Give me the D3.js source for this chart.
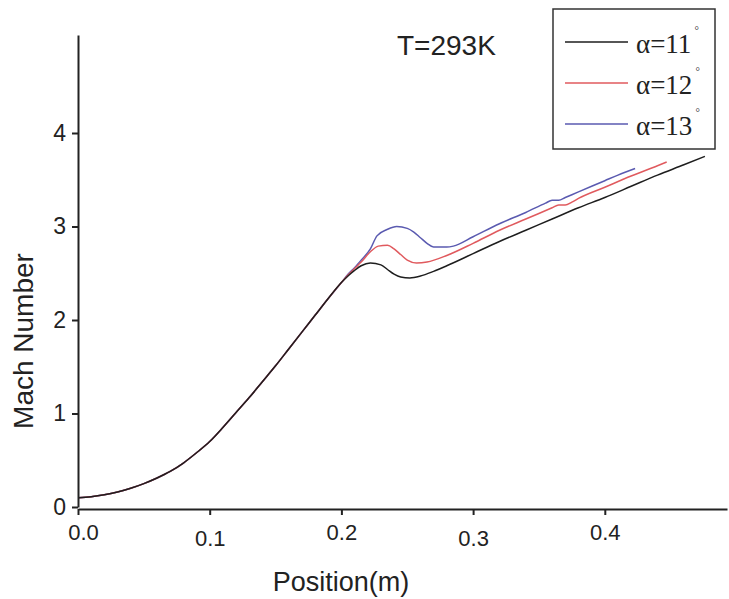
<!DOCTYPE html>
<html>
<head>
<meta charset="utf-8">
<script src="https://cdn.jsdelivr.net/npm/d3@7"></script>
<style>
  body { margin: 0; background: #fff; }
  svg { display: block; }
</style>
</head>
<body>
<div id="chart"></div>
<script>
// shared rising part, all three curves overlap here
const baseX = [0, 0.01, 0.02, 0.03, 0.04, 0.05, 0.06, 0.07, 0.08, 0.09, 0.10, 0.11, 0.12, 0.13, 0.14, 0.15, 0.16, 0.17, 0.18, 0.19, 0.20];
const baseM = [0.10, 0.11, 0.13, 0.16, 0.20, 0.25, 0.31, 0.38, 0.47, 0.58, 0.70, 0.85, 1.01, 1.17, 1.34, 1.51, 1.69, 1.87, 2.05, 2.23, 2.40];

const x11 = [0.205, 0.21, 0.215, 0.222, 0.23, 0.235, 0.24, 0.245, 0.252, 0.26, 0.27, 0.28, 0.30, 0.32, 0.34, 0.36, 0.38, 0.40, 0.42, 0.44, 0.46, 0.476];
const m11 = [2.47, 2.53, 2.58, 2.61, 2.59, 2.54, 2.49, 2.46, 2.45, 2.47, 2.52, 2.58, 2.71, 2.84, 2.96, 3.08, 3.20, 3.31, 3.43, 3.55, 3.66, 3.75];

const x12 = [0.205, 0.21, 0.215, 0.222, 0.228, 0.235, 0.24, 0.245, 0.25, 0.257, 0.265, 0.28, 0.30, 0.32, 0.34, 0.36, 0.365, 0.37, 0.375, 0.38, 0.40, 0.42, 0.44, 0.447];
const m12 = [2.48, 2.55, 2.62, 2.73, 2.79, 2.80, 2.76, 2.70, 2.64, 2.61, 2.62, 2.69, 2.82, 2.96, 3.08, 3.20, 3.23, 3.23, 3.26, 3.30, 3.42, 3.54, 3.65, 3.69];

const x13 = [0.205, 0.21, 0.215, 0.222, 0.227, 0.235, 0.242, 0.25, 0.255, 0.26, 0.265, 0.27, 0.28, 0.285, 0.30, 0.32, 0.34, 0.355, 0.36, 0.365, 0.37, 0.38, 0.40, 0.41, 0.423];
const m13 = [2.49, 2.56, 2.64, 2.76, 2.90, 2.97, 3.00, 2.98, 2.94, 2.88, 2.82, 2.78, 2.78, 2.79, 2.89, 3.03, 3.15, 3.25, 3.28, 3.28, 3.31, 3.37, 3.49, 3.55, 3.62];

const legendLabels = ["11", "12", "13"];
const xTicks = [0, 0.1, 0.2, 0.3, 0.4];
const yTicks = [0, 1, 2, 3, 4];

const cfg = {
    width: 729,
    height: 599,
    left: 78,
    right: 727,
    top: 35,
    bottom: 507,
};

const colors = ["#1e1e1e", "#e05a5e", "#5a5ab0"];

function toPoints(xs, ms) {
    return baseX.map((d, i) => [d, baseM[i]]).concat(xs.map((d, i) => [d, ms[i]]));
}
const series = [toPoints(x11, m11), toPoints(x12, m12), toPoints(x13, m13)];

const svg = d3.select("#chart")
    .append("svg")
    .attr("width", cfg.width)
    .attr("height", cfg.height);

const x = d3.scaleLinear()
    .domain([0, (cfg.right - cfg.left) / 1317])
    .range([cfg.left, cfg.right]);
const y = d3.scaleLinear()
    .domain([0, (cfg.bottom - cfg.top) / 93.5])
    .range([cfg.bottom, cfg.top]);

// curves
const line = d3.line()
    .x(d => x(d[0]))
    .y(d => y(d[1]))
    .curve(d3.curveMonotoneX);

svg.append("g")
    .selectAll("path")
    .data(series.slice().reverse())
    .enter()
    .append("path")
    .attr("d", line)
    .attr("fill", "none")
    .attr("stroke", (d, i) => colors[2 - i])
    .attr("stroke-width", 1.5);

// x axis
const xAxis = svg.append("g")
    .attr("transform", "translate(0," + (cfg.bottom + 2) + ")")
    .call(d3.axisBottom(x).tickValues(xTicks).tickFormat(d3.format(".1f")).tickSize(6).tickSizeOuter(0));
xAxis.select(".domain").attr("stroke", "#222").attr("stroke-width", 2);
xAxis.selectAll(".tick line").attr("stroke", "#222").attr("stroke-width", 2);
xAxis.selectAll(".tick text")
    .attr("font-family", "Arial, 'Liberation Sans', sans-serif")
    .attr("font-size", 22)
    .attr("fill", "#222")
    .attr("y", 14)
    .attr("dy", (d, i) => (i % 2 === 1 ? "1.05em" : "0.75em"))
    .attr("dx", (d, i) => (i === 0 ? 5 : 0));

// y axis
const yAxis = svg.append("g")
    .attr("transform", "translate(" + cfg.left + ",0)")
    .call(d3.axisLeft(y).tickValues(yTicks).tickFormat(d3.format("d")).tickSize(6).tickSizeOuter(0));
yAxis.select(".domain").attr("stroke", "#222").attr("stroke-width", 2);
yAxis.selectAll(".tick line").attr("stroke", "#222").attr("stroke-width", 2);
yAxis.selectAll(".tick text")
    .attr("font-family", "Arial, 'Liberation Sans', sans-serif")
    .attr("font-size", 23)
    .attr("fill", "#222")
    .attr("x", -12);

// axis titles
svg.append("text")
    .attr("x", 341)
    .attr("y", 591)
    .attr("text-anchor", "middle")
    .attr("font-family", "Arial, 'Liberation Sans', sans-serif")
    .attr("font-size", 27)
    .attr("fill", "#222")
    .text("Position(m)");

svg.append("text")
    .attr("transform", "translate(33,341) rotate(-90)")
    .attr("text-anchor", "middle")
    .attr("font-family", "Arial, 'Liberation Sans', sans-serif")
    .attr("font-size", 28)
    .attr("fill", "#222")
    .text("Mach Number");

svg.append("text")
    .attr("x", 397)
    .attr("y", 55)
    .attr("font-family", "Arial, 'Liberation Sans', sans-serif")
    .attr("font-size", 28)
    .attr("fill", "#222")
    .text("T=293K");

// legend
const legend = svg.append("g");
legend.append("rect")
    .attr("x", 553)
    .attr("y", 9)
    .attr("width", 162)
    .attr("height", 140)
    .attr("fill", "#fff")
    .attr("stroke", "#333")
    .attr("stroke-width", 1.5);

const rows = legend.selectAll("g.row")
    .data(legendLabels)
    .enter()
    .append("g")
    .attr("class", "row")
    .attr("transform", (d, i) => "translate(0," + (42 + i * 41) + ")");
rows.append("line")
    .attr("x1", 565)
    .attr("x2", 628)
    .attr("stroke", (d, i) => colors[i])
    .attr("stroke-width", 1.4);
const lt = rows.append("text")
    .attr("x", 636)
    .attr("y", 11)
    .attr("font-family", "'Liberation Serif', 'Times New Roman', serif")
    .attr("font-size", 27)
    .attr("fill", "#222");
lt.append("tspan").text(d => "\u03b1=" + d);
lt.append("tspan")
    .attr("font-size", 11)
    .attr("dx", 3)
    .attr("dy", -19)
    .text("\u00b0");
</script>
</body>
</html>
